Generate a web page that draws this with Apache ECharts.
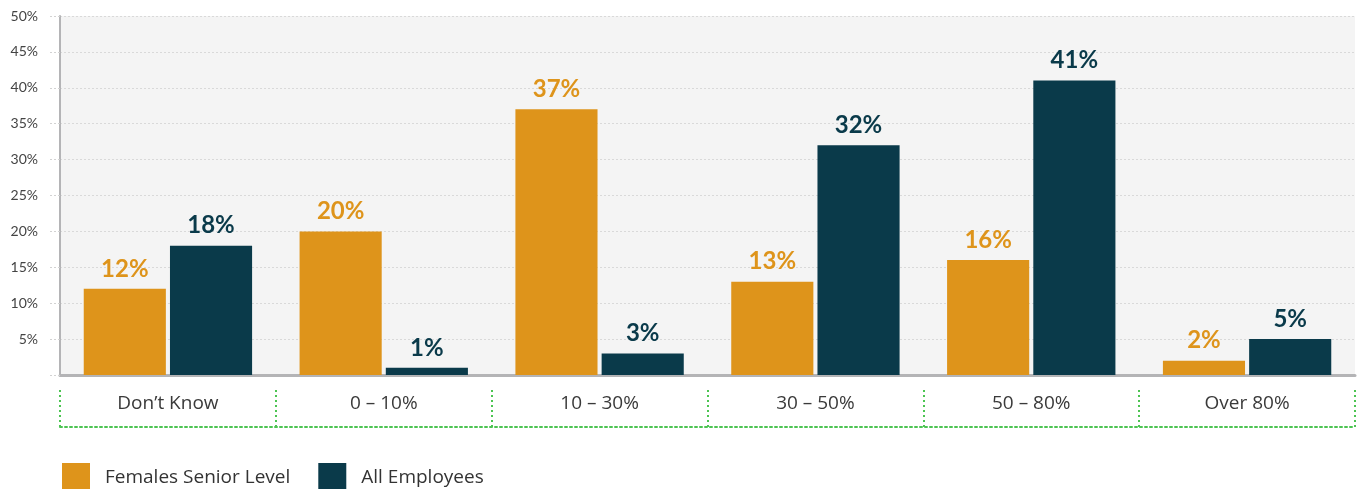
<!DOCTYPE html>
<html>
<head>
<meta charset="utf-8">
<script src="https://cdn.jsdelivr.net/npm/echarts@6/dist/echarts.min.js"></script>
<style>
  html, body { margin: 0; padding: 0; background: #ffffff; }
  #chart { width: 1362px; height: 489px; }
</style>
</head>
<body>
<div id="chart"></div>
<script>
// Share of female employees, by band
const categories = ["Don\u2019t Know", "0 \u2013 10%", "10 \u2013 30%", "30 \u2013 50%", "50 \u2013 80%", "Over 80%"];
const seriesNames = ["Females Senior Level", "All Employees"];
const femalesSenior = [12, 20, 37, 13, 16, 2];
const allEmployees = [18, 1, 3, 32, 41, 5];
const yTicks = [0, 5, 10, 15, 20, 25, 30, 35, 40, 45, 50];

const ORANGE = "#DE941B";
const NAVY = "#0A3A4A";
const FONT = "Lato, 'Noto Sans', sans-serif";
const TEXT_FONT = "'Open Sans', Lato, sans-serif";

const chart = echarts.init(document.getElementById("chart"), null, { renderer: "canvas" });

function barSeries(name, data, color) {
  return {
    name: name,
    type: "bar",
    data: data,
    barGap: "5%",
    barCategoryGap: "22%",
    itemStyle: { color: color },
    label: {
      show: true,
      position: "top",
      distance: 8,
      formatter: "{c}%",
      color: color,
      fontFamily: FONT,
      fontWeight: "bold",
      fontSize: 24
    }
  };
}

chart.setOption({
  animation: false,
  backgroundColor: "#ffffff",
  grid: {
    left: 60, right: 7, top: 16, bottom: 114,
    show: true,
    backgroundColor: "#f4f4f4",
    borderWidth: 0
  },
  legend: {
    data: seriesNames,
    left: 57,
    top: 458,
    itemWidth: 28,
    itemHeight: 30,
    itemGap: 28,
    icon: "rect",
    textStyle: { fontFamily: TEXT_FONT, fontSize: 19, color: "#333333", padding: [0, 0, 0, 10] }
  },
  xAxis: [
    {
      type: "category",
      data: categories,
      position: "bottom",
      axisLine: { show: true, lineStyle: { color: "#b4b4b6", width: 3 } },
      axisTick: { show: false },
      axisLabel: {
        margin: 19,
        fontFamily: TEXT_FONT,
        fontSize: 19,
        color: "#3a3a3a"
      }
    },
    {
      type: "category",
      data: categories,
      position: "bottom",
      offset: 52,
      axisLine: { show: true, lineStyle: { color: "#4cc452", width: 2, type: [2, 3] } },
      axisTick: {
        show: true,
        inside: true,
        length: 40,
        alignWithLabel: false,
        lineStyle: { color: "#4cc452", width: 2, type: [2, 3] }
      },
      axisLabel: { show: false }
    }
  ],
  yAxis: {
    type: "value",
    min: yTicks[0],
    max: yTicks[yTicks.length - 1],
    interval: 5,
    axisLine: { show: true, lineStyle: { color: "#b4b4b6", width: 2 } },
    axisTick: { show: true, length: 10, lineStyle: { color: "#d2d2d2", type: [2, 2] } },
    splitLine: { show: true, lineStyle: { color: "#d9d9d9", type: [2, 2] } },
    axisLabel: {
      margin: 22,
      fontFamily: FONT,
      fontSize: 14,
      color: "#444444",
      formatter: function (v) { return v === 0 ? "" : v + "%"; }
    }
  },
  series: [
    barSeries(seriesNames[0], femalesSenior, ORANGE),
    barSeries(seriesNames[1], allEmployees, NAVY)
  ]
});
</script>
</body>
</html>
